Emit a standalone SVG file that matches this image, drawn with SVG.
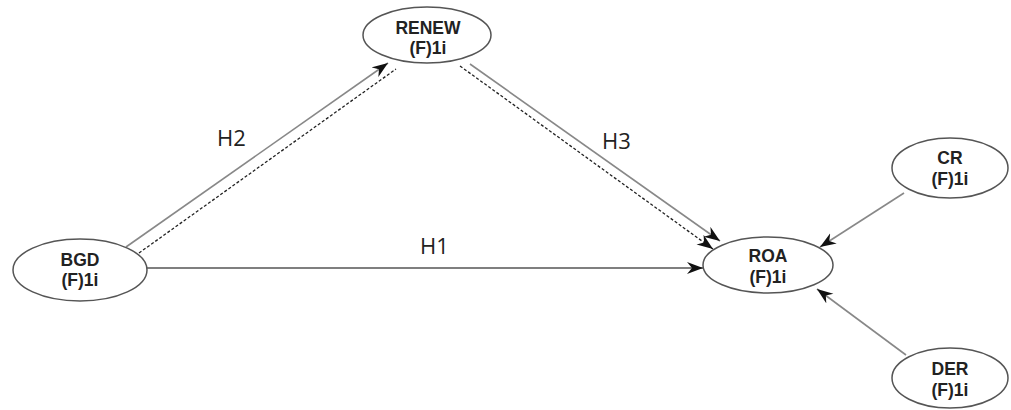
<svg xmlns="http://www.w3.org/2000/svg" width="1011" height="410" viewBox="0 0 1011 410">
<style>
.node ellipse{fill:#fff;stroke:#555;stroke-width:1.5}
.node text{font-family:"Liberation Sans",Arial,sans-serif;font-weight:bold;font-size:17.5px;fill:#222;text-anchor:middle}
.solid{stroke:#888;stroke-width:1.6;fill:none}
.dark{stroke:#555;stroke-width:1.6;fill:none}
.dash{stroke:#222;stroke-width:1.3;stroke-dasharray:3 2;fill:none}
.lbl{font-family:"Open Sans","DejaVu Sans",sans-serif;font-size:22px;fill:#222}
</style>
<defs>
<marker id="ah" markerUnits="userSpaceOnUse" markerWidth="18" markerHeight="14" refX="16" refY="6" orient="auto">
<path d="M0,0 L16,6 L0,12 L5,6 z" fill="#111"/>
</marker>
</defs>
<rect width="1011" height="410" fill="#fff"/>
<g id="connectors">
<line class="dark" x1="147" y1="268" x2="703" y2="268" marker-end="url(#ah)"/>
<line class="solid" x1="126" y1="247" x2="388" y2="63" marker-end="url(#ah)"/>
<line class="dash" x1="139" y1="253" x2="396" y2="69"/>
<line class="solid" x1="470" y1="64" x2="720" y2="241" marker-end="url(#ah)"/>
<line class="dash" x1="460" y1="66" x2="713" y2="249" marker-end="url(#ah)"/>
<line class="solid" x1="904" y1="193" x2="820" y2="247" marker-end="url(#ah)"/>
<line class="solid" x1="906" y1="355" x2="817" y2="289" marker-end="url(#ah)"/>
</g>
<g id="BGD" class="node"><ellipse cx="80" cy="270" rx="67" ry="31"/><text x="80" y="266">BGD</text><text x="80" y="286">(F)1i</text></g>
<g id="RENEW" class="node"><ellipse cx="427" cy="35" rx="64" ry="28"/><text x="428" y="34">RENEW</text><text x="428" y="54">(F)1i</text></g>
<g id="ROA" class="node"><ellipse cx="768" cy="265" rx="65" ry="28"/><text x="768" y="262">ROA</text><text x="768" y="283">(F)1i</text></g>
<g id="CR" class="node"><ellipse cx="950" cy="168" rx="58" ry="30"/><text x="950" y="164">CR</text><text x="950" y="185">(F)1i</text></g>
<g id="DER" class="node"><ellipse cx="950" cy="378" rx="58" ry="30"/><text x="950" y="375">DER</text><text x="950" y="396">(F)1i</text></g>
<g id="labels">
<text class="lbl" x="217" y="146">H2</text>
<text class="lbl" x="602" y="149">H3</text>
<text class="lbl" x="420" y="254">H1</text>
</g>
</svg>
